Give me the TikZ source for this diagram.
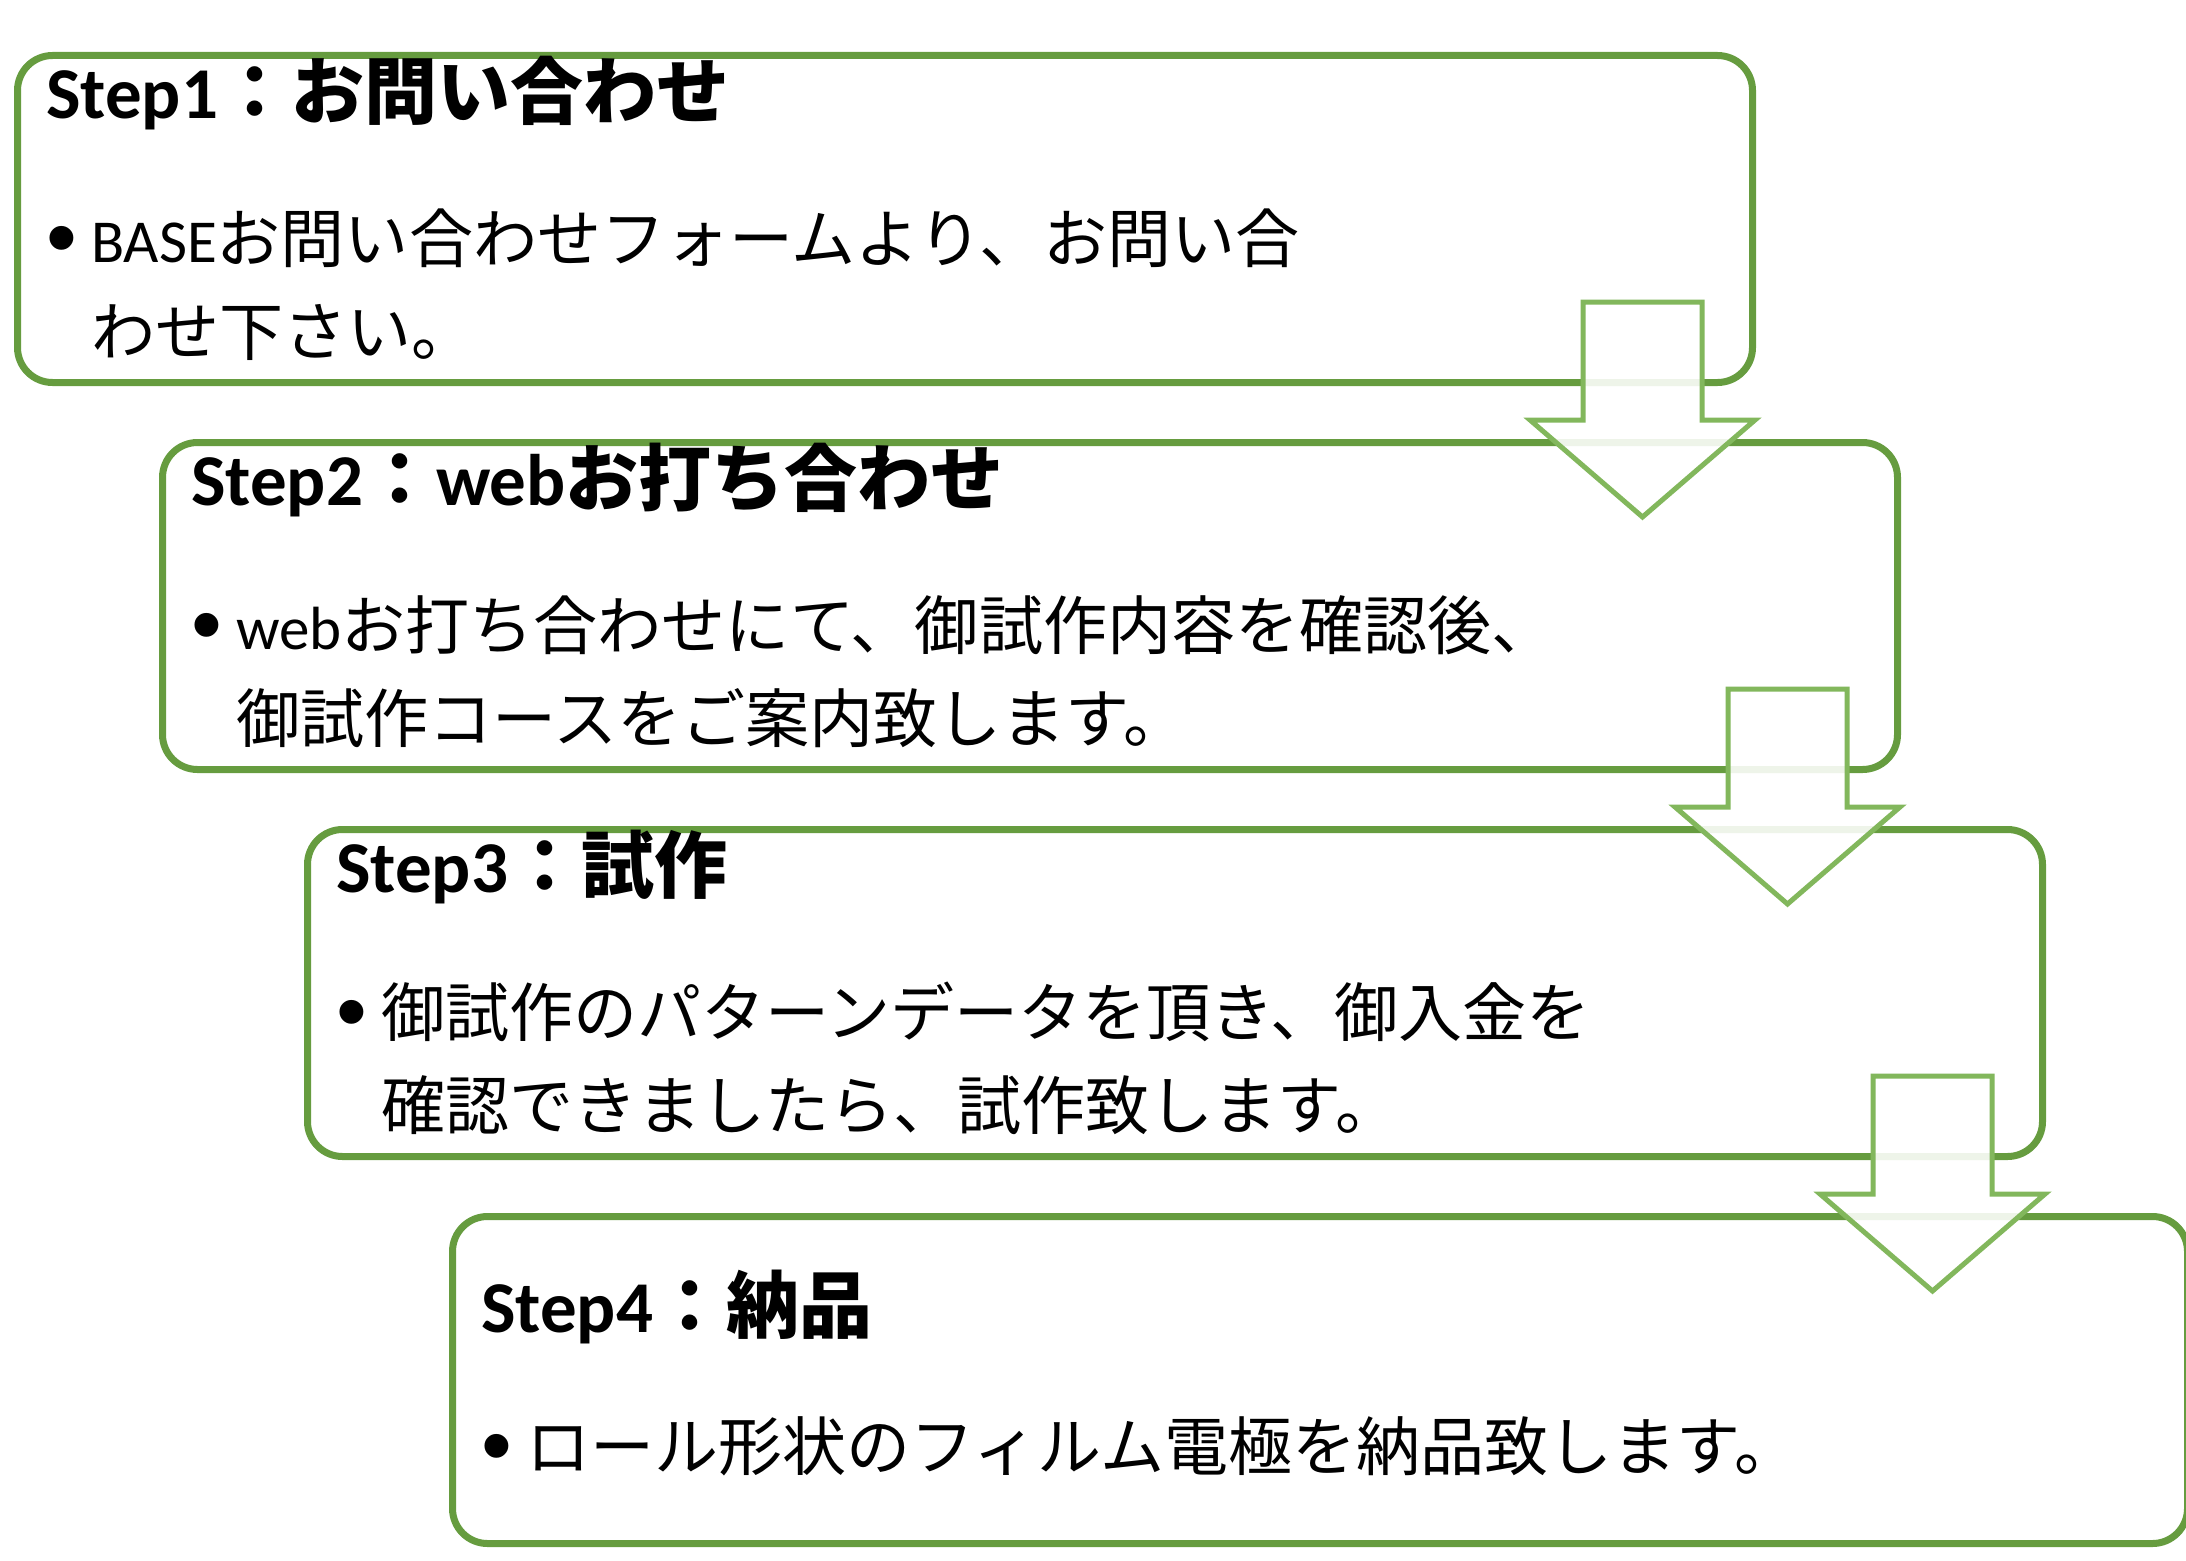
\documentclass[tikz,border=0pt]{standalone}
\usepackage{fontspec}
\setmainfont{Carlito}
\newfontfamily\jp[Scale=1.05]{Noto Sans CJK JP}
\newfontfamily\jpt{Noto Sans CJK JP}
\newfontfamily\bulletfont{Liberation Sans}
\definecolor{boxgreen}{HTML}{669C3F}
\definecolor{arrgreen}{HTML}{82B75C}
\tikzset{
  stepbox/.style={draw=boxgreen, line width=7pt, rounded corners=35pt, fill=white,
    minimum width=1735pt, minimum height=327pt, anchor=north west, inner sep=0pt},
  titletext/.style={anchor=base west, inner sep=0pt, font=\fontsize{73}{85}\selectfont\bfseries},
  bodytext/.style={anchor=base west, inner sep=0pt, font=\fontsize{61}{80}\selectfont},
  bullettext/.style={anchor=base west, inner sep=0pt, font=\fontsize{88}{100}\selectfont\bulletfont},
  arrowshape/.style={draw=arrgreen, line width=5pt, fill=white, fill opacity=0.89, draw opacity=1, line join=miter},
  downarr/.pic={
    \draw[arrowshape] (-59.5,0) -- (59.5,0) -- (59.5,118) -- (112.5,118) -- (0,215)
      -- (-112.5,118) -- (-59.5,118) -- cycle;
  }
}
\begin{document}
\begin{tikzpicture}[x=1pt,y=-1pt]
\useasboundingbox (0,0) rectangle (2186,1560);
% boxes
\node[stepbox] (b1) at (14,52) {};
\node[stepbox] (b2) at (159,439) {};
\node[stepbox] (b3) at (304,826) {};
\node[stepbox] (b4) at (449,1213) {};
% box 1
\node[titletext] (t1) at (46,118) {Step1{\jpt ：お問い合わせ}};
\node[bullettext] (u1) at (46,267) {•};
\node[bodytext] (l1a) at (91,262) {BASE{\jp お問い合わせフォームより、お問い合}};
\node[bodytext] (l1b) at (91,355) {\jp わせ下さい。};
% box 2
\node[titletext] (t2) at (191,505) {Step2{\jpt ：}web{\jpt お打ち合わせ}};
\node[bullettext] (u2) at (191,654) {•};
\node[bodytext] (l2a) at (236,649) {web{\jp お打ち合わせにて、御試作内容を確認後、}};
\node[bodytext] (l2b) at (236,742) {\jp 御試作コースをご案内致します。};
% box 3
\node[titletext] (t3) at (336,892) {Step3{\jpt ：試作}};
\node[bullettext] (u3) at (336,1041) {•};
\node[bodytext] (l3a) at (381,1036) {\jp 御試作のパターンデータを頂き、御入金を};
\node[bodytext] (l3b) at (381,1129) {\jp 確認できましたら、試作致します。};
% box 4
\node[titletext] (t4) at (481,1332) {Step4{\jpt ：納品}};
\node[bullettext] (u4) at (481,1475) {•};
\node[bodytext] (l4a) at (526,1470) {\jp ロール形状のフィルム電極を納品致します。};
% arrows
\pic at (1642.5,302) {downarr};
\pic at (1787.5,689) {downarr};
\pic at (1932.5,1076) {downarr};
\end{tikzpicture}
\end{document}
